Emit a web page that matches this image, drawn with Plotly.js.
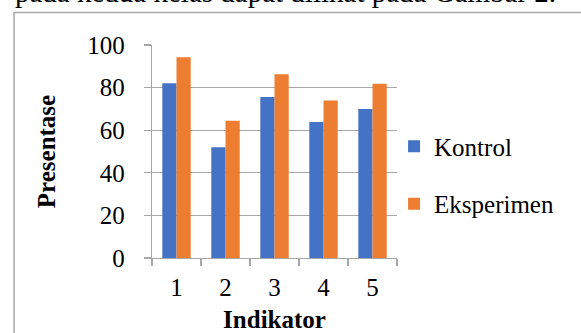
<!DOCTYPE html>
<html>
<head>
<meta charset="utf-8">
<script src="https://cdn.plot.ly/plotly-3.0.1.min.js"></script>
<style>
html,body{margin:0;padding:0;background:#fff;}
#chart{width:581px;height:333px;}
</style>
</head>
<body>
<div id="chart"></div>
<script>
// Data
const categories = ["1", "2", "3", "4", "5"];
const kontrol = [82, 52, 75.6, 63.8, 70];
const eksperimen = [94.2, 64.4, 86.3, 74, 81.8];
const seriesNames = ["Kontrol", "Eksperimen"];
const yTicks = [0, 20, 40, 60, 80, 100];
const xTitle = "Indikator";
const yTitle = "Presentase";
const captionText = "pada kedua kelas dapat dilihat pada Gambar 2.";

const FONT = "Liberation Serif, Times New Roman, serif";
const GRID = "#a6a6a6";

const traces = [
  {type: "bar", name: seriesNames[0], x: categories, y: kontrol,
   marker: {color: "#4472C4"}, legendgroup: "a", hoverinfo: "skip"},
  {type: "bar", name: seriesNames[1], x: categories, y: eksperimen,
   marker: {color: "#ED7D31"}, legendgroup: "b", hoverinfo: "skip"}
];

const layout = {
  width: 581, height: 333,
  margin: {l: 152, r: 184, t: 45, b: 75},
  paper_bgcolor: "#fff", plot_bgcolor: "#fff",
  font: {family: FONT, size: 25, color: "#000"},
  barmode: "group", bargap: 0.42, bargroupgap: 0,
  showlegend: true,
  legend: {x: 0.988, xanchor: "left", y: 0.39, yanchor: "middle",
           font: {family: FONT, size: 25, color: "#000"},
           traceorder: "grouped", tracegroupgap: 22, bgcolor: "rgba(0,0,0,0)"},
  xaxis: {type: "category", tickson: "boundaries", ticks: "outside", ticklen: 7,
          tickcolor: GRID, tickwidth: 1.3, showline: true, linecolor: GRID, linewidth: 1.3,
          showgrid: false, ticklabelstandoff: 7,
          tickfont: {family: FONT, size: 25, color: "#000"},
          title: {text: xTitle, font: {family: FONT, size: 25, color: "#000", weight: "bold"}, standoff: 16}},
  yaxis: {range: [0, 100], tickvals: yTicks, ticks: "outside", ticklen: 7,
          tickcolor: GRID, tickwidth: 1.3, showline: true, linecolor: GRID, linewidth: 1.3,
          showgrid: true, gridcolor: GRID, gridwidth: 1.3, zeroline: false,
          ticklabelstandoff: 14,
          tickfont: {family: FONT, size: 25, color: "#000"},
          title: {text: yTitle, font: {family: FONT, size: 25, color: "#000", weight: "bold"}, standoff: 24}},
  shapes: [
    {type: "rect", xref: "paper", yref: "paper", x0: -0.563, x1: 2, y0: -0.6, y1: 1.153,
     line: {color: "#a6a6a6", width: 1.5}, fillcolor: "rgba(0,0,0,0)", layer: "below"}
  ],
  annotations: [
    {text: captionText, xref: "paper", yref: "paper", x: -0.567, xanchor: "left",
     y: 1.166, yanchor: "bottom", showarrow: false,
     font: {family: FONT, size: 29, color: "#000"}}
  ]
};

Plotly.newPlot("chart", traces, layout, {staticPlot: true, displayModeBar: false});
</script>
</body>
</html>
